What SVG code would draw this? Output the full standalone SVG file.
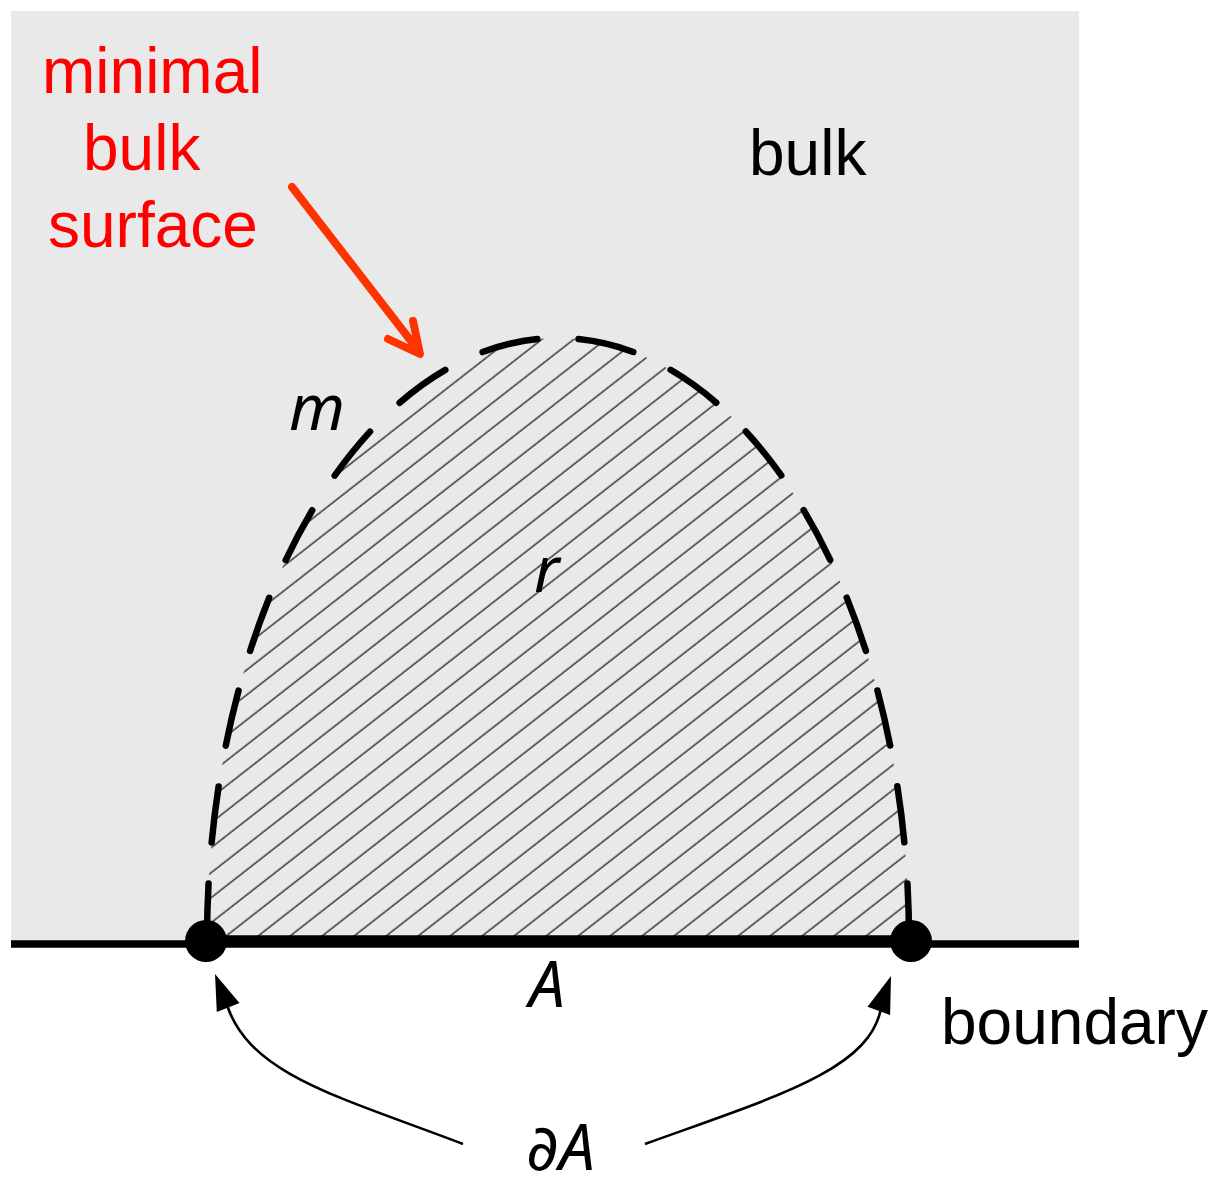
<svg xmlns="http://www.w3.org/2000/svg" width="1216" height="1177" viewBox="0 0 1216 1177">
  <style>
    .lbl { font-family: "Liberation Sans", Arial, sans-serif; font-size: 64px; }
    .red { fill: #ff0000; }
    .blk { fill: #000000; }
    .math { font-family: "Noto Sans", "DejaVu Sans", sans-serif; font-style: italic; font-size: 64px; fill: #000; }
    .dash { fill: none; stroke: #000; stroke-width: 6.5; stroke-linecap: round; }
    .conn { fill: none; stroke: #000; stroke-width: 2.6; }
  </style>
  <defs>
    <pattern id="hatch" patternUnits="userSpaceOnUse" width="20" height="19.7" patternTransform="rotate(-38)">
      <line x1="0" y1="10" x2="20" y2="10" stroke="#2a2a2a" stroke-width="1.4"/>
    </pattern>
    <clipPath id="domeClip">
      <path d="M 207 940 A 351 602 0 0 1 909 940 Z"/>
    </clipPath>
  </defs>

  <g id="bulk-region">
    <rect x="11" y="11" width="1068" height="930" fill="#e9e9e9"/>
  </g>

  <g id="region-r">
    <rect x="200" y="330" width="720" height="612" fill="url(#hatch)" clip-path="url(#domeClip)"/>
  </g>

  <g id="surface-m">
    <path class="dash" d="M 207 940 A 351 602 0 0 1 909 940" pathLength="1000" stroke-dasharray="37.06 27.13"/>
  </g>

  <g id="boundary">
    <line x1="11" y1="944" x2="1079" y2="944" stroke="#000" stroke-width="7.5"/>
  </g>

  <g id="region-A">
    <line x1="206" y1="941" x2="911" y2="941" stroke="#000" stroke-width="11.5"/>
  </g>

  <g id="endpoint-left">
    <circle cx="206" cy="941" r="21" fill="#000"/>
  </g>
  <g id="endpoint-right">
    <circle cx="911" cy="941" r="21" fill="#000"/>
  </g>

  <g id="connectors">
    <g id="arrow-minimal">
      <line x1="292" y1="187" x2="418" y2="350" stroke="#ff3300" stroke-width="8" stroke-linecap="round"/>
      <polyline points="388,339 420,354 413,321" fill="none" stroke="#ff3300" stroke-width="8" stroke-linecap="round" stroke-linejoin="round"/>
    </g>
    <g id="arrow-left">
      <path class="conn" d="M 463 1144 C 340 1097 250 1075 227 1005"/>
      <polygon points="215,974 216.8,1012 239.5,1003" fill="#000"/>
    </g>
    <g id="arrow-right">
      <path class="conn" d="M 645 1144 C 775 1097 870 1070 881 1008"/>
      <polygon points="891,976 867.5,1006.8 890.1,1015" fill="#000"/>
    </g>
  </g>

  <g id="labels">
    <text class="lbl red" x="42" y="93">minimal</text>
    <text class="lbl red" x="83" y="170">bulk</text>
    <text class="lbl red" x="48" y="247">surface</text>
    <text class="lbl blk" x="749" y="175">bulk</text>
    <text class="lbl blk" x="941" y="1044">boundary</text>
    <text class="math" x="289" y="430">m</text>
    <text class="math" x="534" y="592">r</text>
    <text class="math" x="529" y="1007">A</text>
    <text class="math" x="526" y="1170">∂A</text>
  </g>
</svg>
